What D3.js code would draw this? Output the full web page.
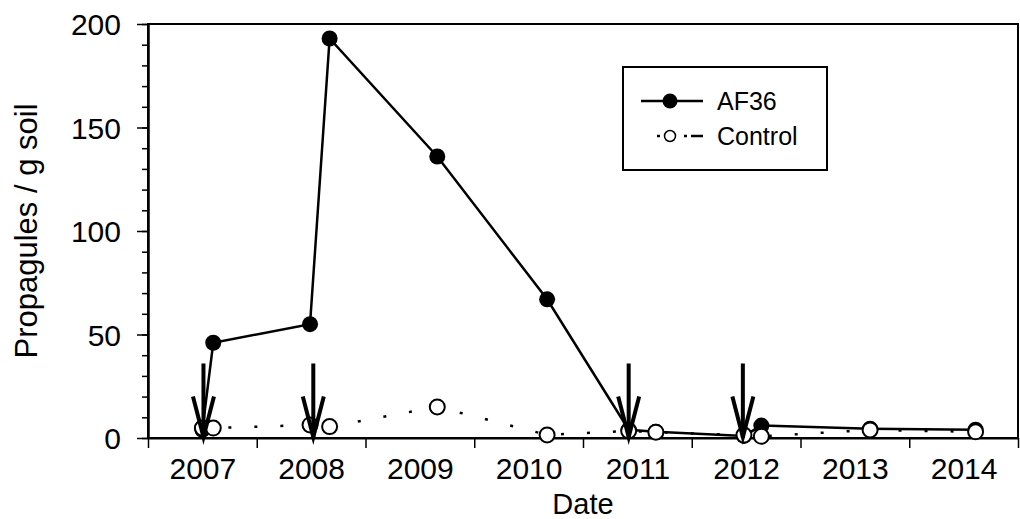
<!DOCTYPE html>
<html>
<head>
<meta charset="utf-8">
<script src="https://cdn.jsdelivr.net/npm/d3@7"></script>
<style>
  body { margin: 0; background: #fff; }
  svg { display: block; font-family: "Liberation Sans", Arial, sans-serif; }
</style>
</head>
<body>
<svg id="chart" width="1020" height="519"></svg>
<script>
// sample dates as fractional years
var sampleDates = [2007.50, 2007.60, 2008.49, 2008.67, 2009.66, 2010.67, 2011.42, 2011.67, 2012.48, 2012.64, 2013.64, 2014.61];
var af36Values = [4, 46, 55, 193, 136, 67, 4, 3, 1, 6, 4.5, 4];
var controlValues = [4.8, 4.8, 6.3, 5.5, 15, 1.5, 3.4, 2.8, 1.4, 0.8, 3.9, 3];
// application dates (arrows)
var arrowDates = [2007.51, 2008.52, 2011.42, 2012.47];
var yearLabels = ["2007", "2008", "2009", "2010", "2011", "2012", "2013", "2014"];
var yTicks = [0, 50, 100, 150, 200];

var svg = d3.select("#chart");
var plotL = 148, plotR = 1018, plotT = 24, plotB = 438;

var x = d3.scaleLinear().domain([2007, 2015]).range([plotL, plotR]);
var y = d3.scaleLinear().domain([0, 200]).range([plotB, plotT]);

// frame
svg.append("rect")
  .attr("x", plotL).attr("y", plotT)
  .attr("width", plotR - plotL).attr("height", plotB - plotT)
  .style("fill", "none").style("stroke", "#000").style("stroke-width", 2);

// y axis major + minor
var yMinor = svg.append("g").attr("transform", "translate(" + plotL + ",0)")
  .call(d3.axisLeft(y).tickValues(d3.range(0, 201, 10)).tickSize(6).tickSizeOuter(0).tickFormat(""));
var yAxis = svg.append("g").attr("transform", "translate(" + plotL + ",0)")
  .call(d3.axisLeft(y).tickValues(yTicks).tickSize(11).tickSizeOuter(0).tickPadding(16));
[yMinor, yAxis].forEach(function(g) {
  g.select(".domain").style("stroke-width", 2);
  g.selectAll("line").style("stroke-width", 1.5);
});
yAxis.selectAll("text").style("font-size", "30px").style("fill", "#000")
  .attr("dy", "0.36em").style("font-family", "Liberation Sans, Arial, sans-serif");

// x axis: ticks at year boundaries, labels mid-year
var xTickG = svg.append("g").attr("transform", "translate(0," + plotB + ")")
  .call(d3.axisBottom(x).tickValues(d3.range(2007, 2016)).tickSize(10).tickSizeOuter(0).tickFormat(""));
xTickG.select(".domain").style("stroke-width", 2);
xTickG.selectAll("line").style("stroke-width", 1.5);

var xLab = svg.append("g").attr("transform", "translate(0," + plotB + ")")
  .call(d3.axisBottom(x).tickValues(yearLabels.map(function(d) { return +d + 0.5; }))
    .tickSize(0).tickPadding(20).tickFormat(function(d, i) { return yearLabels[i]; }));
xLab.select(".domain").remove();
xLab.selectAll("text").style("font-size", "30px").style("fill", "#000")
  .style("font-family", "Liberation Sans, Arial, sans-serif");

// axis titles
svg.append("text")
  .attr("x", (plotL + plotR) / 2).attr("y", 514)
  .attr("text-anchor", "middle").style("font-size", "29px")
  .text("Date");
svg.append("text")
  .attr("transform", "translate(37," + (plotT + plotB) / 2 + ") rotate(-90)")
  .attr("text-anchor", "middle").style("font-size", "31px")
  .text("Propagules / g soil");

var af36 = sampleDates.map(function(d, i) { return { date: d, v: af36Values[i] }; });
var control = sampleDates.map(function(d, i) { return { date: d, v: controlValues[i] }; });
var line = d3.line().x(function(d) { return x(d.date); }).y(function(d) { return y(d.v); });

// AF36 series
svg.append("path").datum(af36).attr("d", line)
  .style("fill", "none").style("stroke", "#000").style("stroke-width", 2.5);
svg.selectAll("circle.af").data(af36).enter().append("circle")
  .attr("class", "af")
  .attr("cx", function(d) { return x(d.date); })
  .attr("cy", function(d) { return y(d.v); })
  .attr("r", 8).style("fill", "#000");

// Control series
svg.append("path").datum(control).attr("d", line)
  .style("fill", "none").style("stroke", "#000").style("stroke-width", 2.5)
  .style("stroke-dasharray", "3,23");
svg.selectAll("circle.ct").data(control).enter().append("circle")
  .attr("class", "ct")
  .attr("cx", function(d) { return x(d.date); })
  .attr("cy", function(d) { return y(d.v); })
  .attr("r", 7.5).style("fill", "#fff").style("stroke", "#000").style("stroke-width", 2);

// arrows
var arrows = svg.selectAll("g.arrow").data(arrowDates).enter().append("g").attr("class", "arrow");
arrows.append("line")
  .attr("x1", function(d) { return x(d); }).attr("x2", function(d) { return x(d); })
  .attr("y1", y(36)).attr("y2", y(0))
  .style("stroke", "#000").style("stroke-width", 4);
arrows.append("path")
  .attr("d", function(d) {
    var cx = x(d);
    return "M" + (cx - 10.5) + "," + y(20) + "L" + cx + "," + (y(0) - 1) + "L" + (cx + 10.5) + "," + y(20);
  })
  .style("fill", "none").style("stroke", "#000").style("stroke-width", 4);

// legend
var lg = svg.append("g");
lg.append("rect").attr("x", 623).attr("y", 67).attr("width", 204).attr("height", 103)
  .style("fill", "#fff").style("stroke", "#000").style("stroke-width", 2);
lg.append("line").attr("x1", 641).attr("x2", 703).attr("y1", 101).attr("y2", 101)
  .style("stroke", "#000").style("stroke-width", 2.5);
lg.append("circle").attr("cx", 670).attr("cy", 101).attr("r", 7.5).style("fill", "#000");
lg.append("text").attr("x", 717).attr("y", 110).style("font-size", "25px").text("AF36");
lg.append("line").attr("x1", 657).attr("x2", 703).attr("y1", 136).attr("y2", 136)
  .style("stroke", "#000").style("stroke-width", 2.5).style("stroke-dasharray", "3,24,3,4,12");
lg.append("circle").attr("cx", 670).attr("cy", 136).attr("r", 5.5)
  .style("fill", "#fff").style("stroke", "#000").style("stroke-width", 1.5);
lg.append("text").attr("x", 717).attr("y", 145).style("font-size", "25px").text("Control");
</script>
</body>
</html>
